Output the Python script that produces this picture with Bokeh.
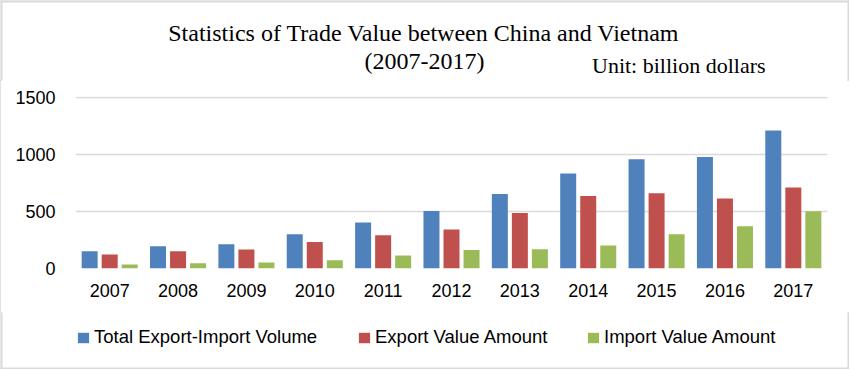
from bokeh.plotting import figure
from bokeh.layouts import column
from bokeh.models import (FactorRange, Range1d, FixedTicker, Label, Legend,
                          LegendItem, ColumnDataSource, Span)
from bokeh.transform import dodge
from bokeh.embed import file_html
from bokeh.resources import INLINE

# ---- data ----
years = ["2007", "2008", "2009", "2010", "2011", "2012",
         "2013", "2014", "2015", "2016", "2017"]
total_volume = [152, 196, 213, 301, 403, 505, 654, 833, 959, 979, 1211]
export_value = [123, 152, 167, 233, 292, 342, 488, 637, 661, 614, 711]
import_value = [35, 46, 53, 73, 114, 163, 169, 202, 301, 371, 503]
y_ticks = [0, 500, 1000, 1500]
series_names = ["Total Export-Import Volume", "Export Value Amount",
                "Import Value Amount"]
title_line1 = "Statistics of Trade Value between China and Vietnam"
title_line2 = "(2007-2017)"
unit_text = "Unit: billion dollars"

colors = ["#4F81BD", "#C0504D", "#9BBB59"]
BORDER = "#D9D9D9"
W = 849


def blank_fig(h):
    f = figure(width=W, height=h, x_range=Range1d(0, W), y_range=Range1d(0, h),
               output_backend="svg", toolbar_location=None,
               x_axis_location=None, y_axis_location=None, min_border=0,
               outline_line_color=None, border_fill_color="white",
               background_fill_color="white", frame_align=False)
    f.grid.visible = False
    # chart-area frame (left / right edges)
    for loc in (1, W - 1):
        f.add_layout(Span(location=loc, dimension="height",
                          line_color=BORDER, line_width=2))
    return f


# ---- title area ----
tf = blank_fig(80)
tf.add_layout(Span(location=79, dimension="width", line_color=BORDER,
                   line_width=2))
tf.add_layout(Label(x=423.5, y=47.6, x_units="screen", y_units="screen",
                    text=title_line1, text_align="center",
                    text_baseline="middle", text_font="Liberation Serif",
                    text_font_size="24px", text_color="#000000"))
tf.add_layout(Label(x=424, y=20, x_units="screen", y_units="screen",
                    text=title_line2, text_align="center",
                    text_baseline="middle", text_font="Liberation Serif",
                    text_font_size="24px", text_color="#000000"))
tf.add_layout(Label(x=591.5, y=15.2, x_units="screen", y_units="screen",
                    text=unit_text, text_align="left",
                    text_baseline="middle", text_font="Liberation Serif",
                    text_font_size="22px", text_color="#000000"))

# ---- main chart ----
src = ColumnDataSource(dict(year=years, total=total_volume,
                            export=export_value, imp=import_value))

p = figure(x_range=FactorRange(factors=years, range_padding=0),
           y_range=Range1d(0, 1510),
           width=W, height=232, output_backend="svg", toolbar_location=None,
           min_border_left=75, min_border_right=22,
           min_border_top=16, min_border_bottom=44,
           outline_line_color=None,
           background_fill_color="white", border_fill_color="white")

offsets = [-0.293, 0.0, 0.293]
cols = ["total", "export", "imp"]
for off, col, c in zip(offsets, cols, colors):
    p.vbar(x=dodge("year", off, range=p.x_range), top=col, width=0.234,
           source=src, fill_color=c, line_color=None)

p.yaxis.ticker = FixedTicker(ticks=y_ticks)
for ax in (p.xaxis[0], p.yaxis[0]):
    ax.axis_line_color = None
    ax.major_tick_line_color = None
    ax.minor_tick_line_color = None
    ax.major_tick_out = 0
    ax.major_tick_in = 0
    ax.major_label_text_font = "Liberation Sans"
    ax.major_label_text_font_size = "18px"
    ax.major_label_text_color = "#000000"
p.xaxis.major_label_standoff = 15
p.yaxis.major_label_standoff = 20

p.xgrid.grid_line_color = None
p.ygrid.grid_line_color = "#D9D9D9"
p.ygrid.grid_line_width = 1.5

# ---- legend area ----
lf = blank_fig(57)
lf.add_layout(Span(location=1, dimension="width", line_color=BORDER,
                   line_width=2))
legend_x = [76, 357, 586]
for name, c, lx in zip(series_names, colors, legend_x):
    # zero-size proxy glyph, only used for the legend swatch
    r = lf.vbar(x=[0], top=[0], width=0, fill_color=c, line_color=None)
    leg = Legend(items=[LegendItem(label=name, renderers=[r])],
                 location=(lx, 21), orientation="horizontal",
                 padding=0, margin=0, border_line_color=None,
                 background_fill_alpha=0, glyph_width=14, glyph_height=13,
                 label_height=13, label_standoff=4,
                 label_text_font="Liberation Sans",
                 label_text_font_size="18.5px", label_text_color="#000000")
    lf.add_layout(leg)

layout = column(tf, p, lf, spacing=0,
                styles={"outline": "2px solid #D9D9D9",
                        "outline-offset": "-2px"})

open("out.html", "w").write(file_html(layout, INLINE))
